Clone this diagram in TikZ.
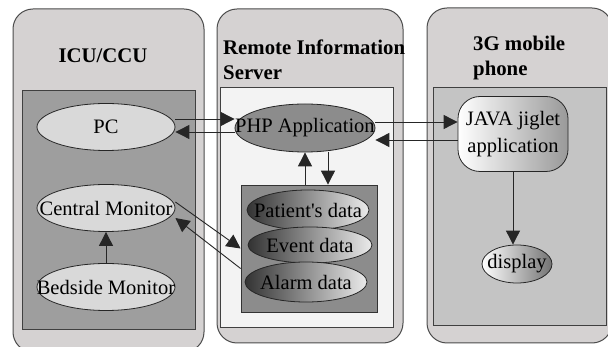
\documentclass[tikz,border=0pt]{standalone}
\usepackage{fontspec}
\setmainfont{Liberation Serif}
\usetikzlibrary{shapes.geometric,arrows.meta}
\definecolor{panelgray}{RGB}{213,210,210}
\definecolor{leftgray}{RGB}{158,158,158}
\definecolor{midgray}{RGB}{243,243,243}
\definecolor{rightgray}{RGB}{196,196,196}
\definecolor{boxgray}{RGB}{140,140,140}
\newcommand{\ovl}[1]{\makebox[0pt]{#1}}
\tikzset{
 panel/.style={draw=black!70, line width=1pt, fill=panelgray, rounded corners=20pt},
 inbox/.style={draw=black!75, line width=0.8pt},
 title/.style={font=\bfseries\fontsize{20.8}{25}\selectfont, inner sep=0pt, align=left},
 oval/.style={ellipse, draw=black!85, line width=0.8pt, inner sep=0pt, font=\fontsize{20.5}{22}\selectfont},
 pale/.style={left color=black!15, middle color=white, right color=black!15},
 dark/.style={left color=black!80, middle color=black!45, right color=black!8},
 link/.style={draw=black!85, line width=0.9pt, -{Triangle[length=14pt,width=14pt]}},
}
\begin{document}
\begin{tikzpicture}[x=1pt,y=-1pt]
 \clip (0,0) rectangle (608,347);
 \fill [white] (0,0) rectangle (608,347);
 % panels
 \draw [panel] (13,9) rectangle (204,352);
 \draw [panel] (217,9) rectangle (403,343);
 \draw [panel] (427,8) rectangle (612,343);
 \draw [inbox, fill=leftgray] (22,90) rectangle (195,329);
 \draw [inbox, fill=midgray] (220,87) rectangle (393,327);
 \draw [inbox, fill=rightgray] (433,87) rectangle (606,325);
 \node [title, anchor=base] (icu) at (103,63) {ICU/CCU};
 \node [title, anchor=base west] (ris) at (223,80) {Remote Information\\Server};
 \node [title, anchor=base west] (mob) at (473,76) {3G mobile\\phone};
 % ICU/CCU
 \node [oval, pale, minimum width=138pt, minimum height=47pt] (pc) at (106,127) {\ovl{PC}};
 \node [oval, pale, minimum width=138pt, minimum height=47pt] (cm) at (106,208) {\ovl{Central Monitor}};
 \node [oval, pale, minimum width=138pt, minimum height=47pt] (bm) at (106,287) {\ovl{Bedside Monitor}};
 % server
 \node [oval, left color=black!45, middle color=black!10, right color=black!45,
   minimum width=140pt, minimum height=48pt] (php) at (305,128) {\ovl{PHP Application}};
 \node [draw=black!80, line width=0.8pt, fill=boxgray, minimum width=136pt,
   minimum height=127pt] (db) at (309,248.5) {};
 \node [oval, dark, minimum width=122pt, minimum height=40pt] (pd) at (308,210) {\ovl{Patient\textquotesingle s data}};
 \node [oval, dark, minimum width=124pt, minimum height=36pt] (ed) at (310,245) {\ovl{Event data}};
 \node [oval, dark, minimum width=122pt, minimum height=40pt] (ad) at (306,282) {\ovl{Alarm data}};
 % phone
 \node [draw=black!85, line width=0.8pt, rounded corners=22pt, left color=white, right color=black!40,
   minimum width=110pt, minimum height=75pt, align=center, inner sep=0pt,
   font=\fontsize{20.5}{27}\selectfont] (java) at (513,134) {JAVA jiglet\\application};
 \node [oval, left color=white, middle color=black!10, right color=black!55,
   minimum width=70pt, minimum height=38pt] (disp) at (517,264) {\ovl{display}};
 % links
 \draw [link] ([yshift=8pt]pc.east) -- ([yshift=8pt]pc.east -| php.west);
 \draw [link] ([yshift=-4pt]php.west) -- ([yshift=-4pt]php.west -| pc.east);
 \draw [link] ([yshift=6pt]php.east) -- ([yshift=6pt]php.east -| java.west);
 \draw [link] ([yshift=-6pt]java.west) -- ([yshift=-6pt]java.west -| php.east);
 \draw [link] ([yshift=6pt]cm.east) -- (db.west);
 \draw [link] ([yshift=-20pt]db.west) -- ([yshift=-10pt]cm.east);
 \draw [link] (bm.north) -- (cm.south);
 \draw [link] (db.north -| php.south) -- (php.south);
 \draw [link] ([xshift=23pt]php.south) -- ([xshift=23pt]php.south |- db.north);
 \draw [link] (java.south) -- (java.south |- disp.north);
\end{tikzpicture}
\end{document}
